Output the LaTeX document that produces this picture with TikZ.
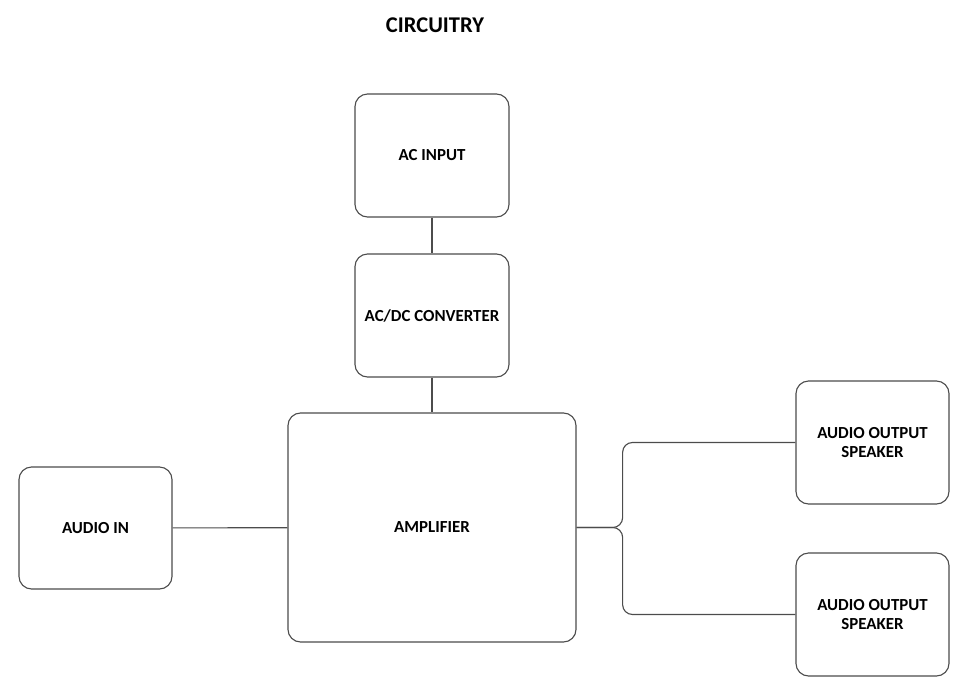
\documentclass[tikz,border=0pt]{standalone}
\usepackage{fontspec}
\setmainfont{Carlito}
\begin{document}
\begin{tikzpicture}[x=0.025cm,y=-0.025cm,
        block/.style={anchor=center,draw=black!70,line width=0.8pt,rounded corners=9pt,align=center,font=\bfseries\fontsize{12}{14}\selectfont},
        wire/.style={draw=black!70,line width=0.8pt}]
        \useasboundingbox (0,0) rectangle (954,685);
        %% title
        \node[font=\bfseries\fontsize{16}{18}\selectfont] (title) at (435,25) {CIRCUITRY};
        %% power supply
        \node[block,minimum width=3.85cm,minimum height=3.075cm] (acin) at (432,155.5) {AC INPUT};
        \node[block,minimum width=3.85cm,minimum height=3.075cm] (conv) at (432,315.5) {AC/DC CONVERTER};
        %% amplifier
        \node[block,minimum width=7.2cm,minimum height=5.725cm] (amp) at (432,527.5) {AMPLIFIER};
        %% audio in
        \node[block,minimum width=3.825cm,minimum height=3.05cm] (audioin) at (95.5,528) {AUDIO IN};
        %% speakers
        \node[block,minimum width=3.825cm,minimum height=3.075cm] (spka) at (872.5,442.5) {AUDIO OUTPUT\\SPEAKER};
        \node[block,minimum width=3.825cm,minimum height=3.075cm] (spkb) at (872.5,614.5) {AUDIO OUTPUT\\SPEAKER};
        %% connectors
        \draw[wire] (acin) -- (conv);
        \draw[wire] (conv) -- (amp);
        \draw[wire] (audioin) -- (amp);
        \draw[wire,rounded corners=7pt] (amp.east) -- ++(46,0) |- (spka.west);
        \draw[wire,rounded corners=7pt] (amp.east) -- ++(46,0) |- (spkb.west);
    \end{tikzpicture}
\end{document}
